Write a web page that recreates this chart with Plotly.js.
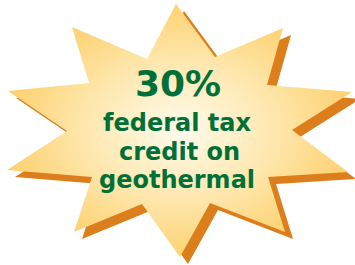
<!DOCTYPE html>
<html>
<head>
<meta charset="utf-8">
<script src="https://cdn.plot.ly/plotly-3.0.1.min.js"></script>
<style>
html,body{margin:0;padding:0;background:#fff;}
#chart{width:355px;height:265px;}
</style>
</head>
<body>
<div id="chart"></div>
<script>
// Star outline vertices (pixel space), clockwise from top point
const starX = [176, 215, 283, 267, 352, 292, 348, 268, 285, 210, 180, 142, 74, 92, 7, 67, 8, 89, 72, 147, 176];
const starY = [4, 57, 28, 85, 92, 130, 172, 177, 232, 203, 257, 204, 232, 177, 170, 131, 91, 83, 27, 59, 4];
const shadowDX = 8;
const shadowDY = 7;
const textLines = ["30%", "federal tax", "credit on", "geothermal"];
const textX = [178, 176.5, 179, 176.5];
const textY = [83.5, 123.4, 151.8, 179.8];
const textSizes = [36, 24, 24, 24];

const green = "#006F38";

const shadow = {
  x: starX.map(v => v + shadowDX),
  y: starY.map(v => v + shadowDY),
  mode: "lines", fill: "toself", fillcolor: "#DC7E1C",
  line: {width: 0, color: "#DC7E1C"}, hoverinfo: "skip", showlegend: false
};
const star = {
  x: starX, y: starY,
  mode: "lines", fill: "toself",
  fillgradient: {type: "radial", colorscale: [[0, "#FFFBEC"], [0.5, "#FEE9B4"], [1, "#FDD272"]]},
  line: {width: 0, color: "#FDD272"}, hoverinfo: "skip", showlegend: false
};

const annotations = textLines.map((t, i) => ({
  x: textX[i], y: textY[i], xref: "x", yref: "y",
  text: t, showarrow: false, xanchor: "center", yanchor: "middle",
  font: {family: "'DejaVu Sans', sans-serif", size: textSizes[i], color: green, weight: "bold"}
}));

Plotly.newPlot("chart", [shadow, star], {
  width: 355, height: 265,
  margin: {l: 0, r: 0, t: 0, b: 0},
  paper_bgcolor: "#ffffff", plot_bgcolor: "#ffffff",
  xaxis: {range: [0, 355], visible: false, fixedrange: true},
  yaxis: {range: [265, 0], visible: false, fixedrange: true},
  annotations: annotations,
  showlegend: false
}, {displayModeBar: false, staticPlot: true});
</script>
</body>
</html>
